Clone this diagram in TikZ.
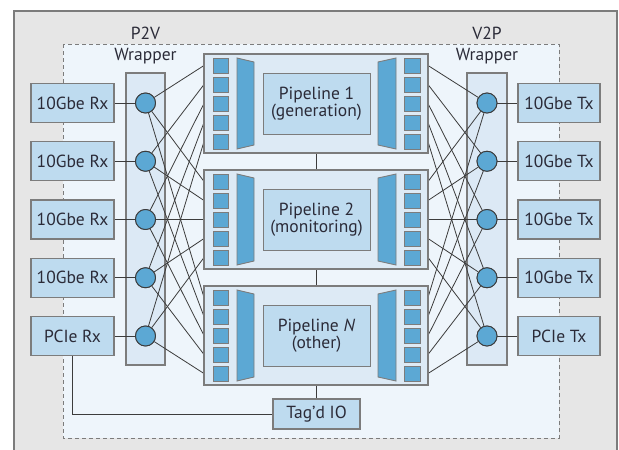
\documentclass[tikz,border=0pt]{standalone}
\usepackage{fontspec}
\setmainfont{PT Sans}
\definecolor{bggray}{HTML}{E6E6E6}
\definecolor{edgegray}{HTML}{7C7C7C}
\definecolor{regionfill}{HTML}{EEF5FB}
\definecolor{wrapfill}{HTML}{DCE9F5}
\definecolor{pipefill}{HTML}{DDEAF5}
\definecolor{boxfill}{HTML}{BEDBEF}
\definecolor{portblue}{HTML}{5CA8D4}
\definecolor{wirecol}{HTML}{3C3C3C}
\definecolor{txt}{HTML}{2B2B38}
\tikzset{
  iobox/.style={draw=edgegray, line width=1.1pt, fill=boxfill, minimum width=83pt,
    minimum height=39pt, inner sep=0pt, font=\fontsize{17.5}{19}\selectfont, text=txt},
  hub/.style={circle, draw=wirecol, line width=0.9pt, fill=portblue, minimum size=20pt, inner sep=0pt},
  wire/.style={draw=wirecol, line width=0.8pt},
  panel/.style={draw=edgegray, line width=1.1pt},
  portsq/.style={draw=edgegray, line width=0.9pt, fill=portblue},
  mux/.style={draw=edgegray, line width=0.9pt, fill=portblue},
  caption/.style={font=\fontsize{17.5}{19}\selectfont, text=txt, inner sep=0pt}
}
\begin{document}
\begin{tikzpicture}[x=1pt,y=-1pt]
\useasboundingbox (0,0) rectangle (619,450);
% outer frame
\fill[bggray] (14,11) rectangle (617,450);
\draw[edgegray, line width=1.2pt] (14,450) -- (14,11) -- (617,11) -- (617,450);
% dashed region
\draw[edgegray, line width=0.9pt, dash pattern=on 4pt off 3pt, fill=regionfill] (63,44) rectangle (559,438);
% wrapper columns
\draw[panel, fill=wrapfill] (126,73) rectangle (165,365);
\draw[panel, fill=wrapfill] (467,73) rectangle (507,365);
\node[caption] (p2v) at (145.5,33) {P2V};
\node[caption] (wl) at (145.5,56) {Wrapper};
\node[caption] (v2p) at (487,33) {V2P};
\node[caption] (wr) at (487,56) {Wrapper};
% hub positions
\foreach \i in {1,...,5}{
  \pgfmathsetmacro{\hy}{103+58.25*(\i-1)}
  \coordinate (hlpos\i) at (145.5,\hy);
  \coordinate (hrpos\i) at (487,\hy);
}
% pipeline port anchors
\foreach \j in {1,2,3}{
  \pgfmathsetmacro{\top}{54+116*(\j-1)}
  \foreach \i in {1,...,5}{
    \pgfmathsetmacro{\py}{\top+11.5+19*(\i-1)}
    \coordinate (pin\j\i) at (204,\py);
    \coordinate (pout\j\i) at (428,\py);
  }
}
% hub nodes (placed first so wires can refer to them)
\foreach \i in {1,...,5}{
  \node[hub] (hl\i) at (hlpos\i) {};
  \node[hub] (hr\i) at (hrpos\i) {};
}
% crossbar wiring
\foreach \j in {1,2,3}{
  \foreach \i in {1,...,5}{
    \draw[wire] (hl\i) -- (pin\j\i);
    \draw[wire] (pout\j\i) -- (hr\i);
  }
}
% links between pipelines and to tagged IO
\draw[wire] (316,153) -- (316,170);
\draw[wire] (316,269) -- (316,286);
\draw[wire] (316,385) -- (316,399);
% pipelines
\foreach \j/\lbl in {1/{Pipeline 1\\(generation)}, 2/{Pipeline 2\\(monitoring)}, 3/{Pipeline \textit{N}\\(other)}}{
  \pgfmathsetmacro{\top}{54+116*(\j-1)}
  \draw[panel, fill=pipefill] (204,\top) rectangle (428,\top+99);
  \foreach \i in {1,...,5}{
    \draw[portsq] (213,\top+4+19*\i-19) rectangle (228,\top+19+19*\i-19);
    \draw[portsq] (404,\top+4+19*\i-19) rectangle (420,\top+19+19*\i-19);
  }
  \draw[mux] (237,\top+4) -- (254,\top+8) -- (254,\top+91) -- (237,\top+95) -- cycle;
  \draw[mux] (378,\top+8) -- (396,\top+4) -- (396,\top+95) -- (378,\top+91) -- cycle;
  \draw[draw=edgegray, line width=1pt, fill=boxfill] (263,\top+19) rectangle (370,\top+80);
  \node[caption, align=center, font=\fontsize{17.5}{17.5}\selectfont] (pl\j) at (316.5,\top+49.5) {\lbl};
}
% hubs on top of wires
\foreach \i in {1,...,5}{
  \node[hub] at (hlpos\i) {};
  \node[hub] at (hrpos\i) {};
}
% physical ports
\foreach \i/\t in {1/10Gbe Rx,2/10Gbe Rx,3/10Gbe Rx,4/10Gbe Rx,5/PCIe Rx}{
  \node[iobox] (rx\i) at (72.5,0|-hlpos\i) {\t};
  \draw[wire] (rx\i) -- (hl\i);
}
\foreach \i/\t in {1/10Gbe Tx,2/10Gbe Tx,3/10Gbe Tx,4/10Gbe Tx,5/PCIe Tx}{
  \node[iobox, minimum width=82pt] (tx\i) at (559,0|-hrpos\i) {\t};
  \draw[wire] (hr\i) -- (tx\i);
}
% tagged IO
\node[iobox, minimum width=87pt, minimum height=30pt] (tag) at (316.5,414) {Tag’d IO};
\draw[wire] (rx5.south) |- (tag.west);
\end{tikzpicture}
\end{document}
